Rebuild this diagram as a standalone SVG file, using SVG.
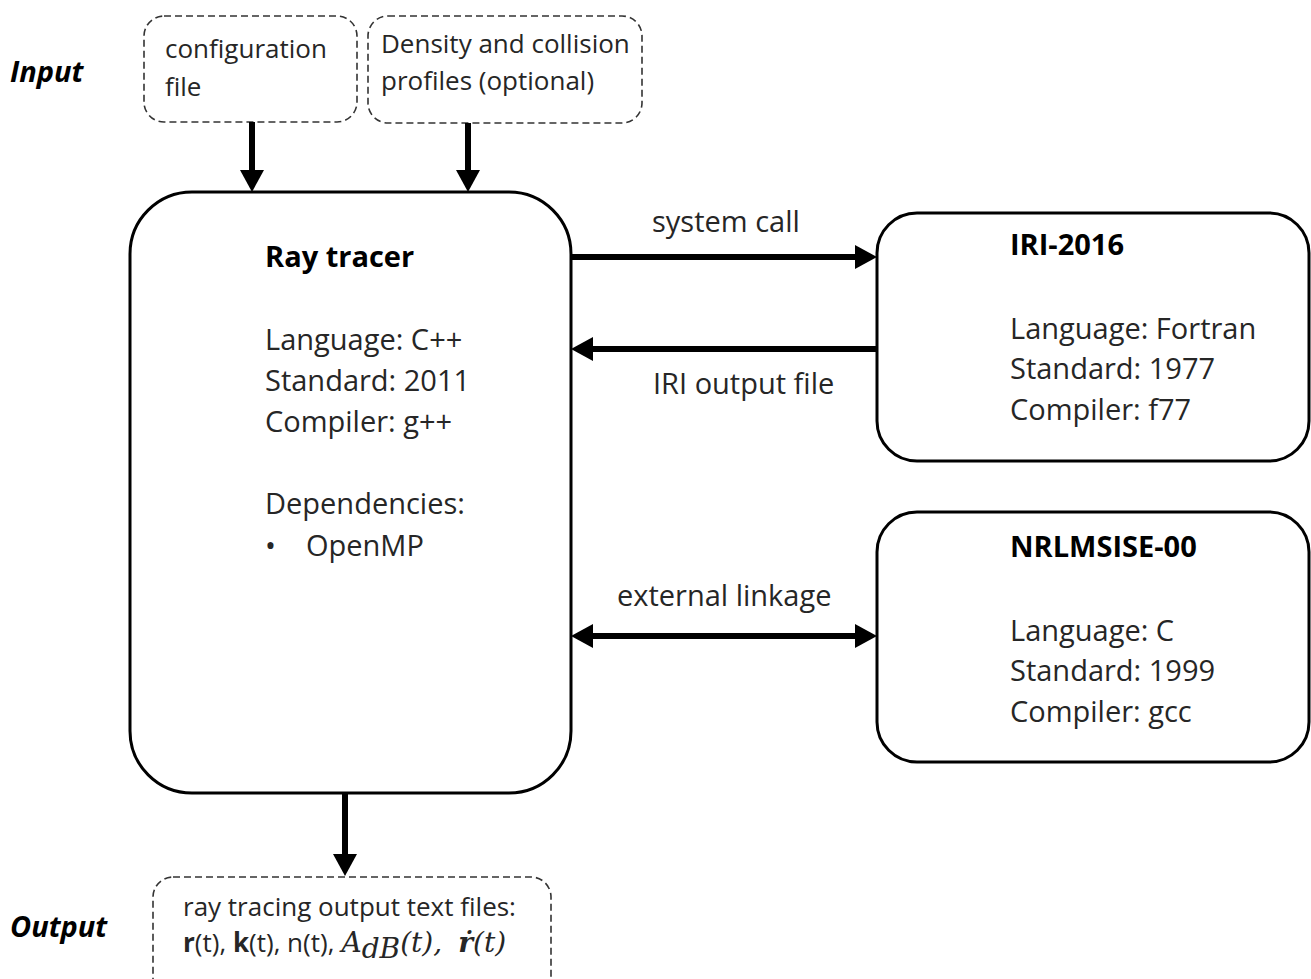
<svg xmlns="http://www.w3.org/2000/svg" width="1311" height="979" viewBox="0 0 1311 979">
<style>
.box{fill:#fff;stroke:#000;stroke-width:3}
.dbox{fill:#fff;stroke:#333;stroke-width:1.6;stroke-dasharray:7 4}
.t{font-family:"Open Sans","Liberation Sans",sans-serif;font-size:29px;fill:#262626}
.ts{font-family:"Open Sans","Liberation Sans",sans-serif;font-size:26px;fill:#262626}
.b{font-weight:bold;fill:#000}
.lab{font-family:"Open Sans","Liberation Sans",sans-serif;font-weight:bold;font-style:italic;font-size:29px;fill:#000}
.m{font-family:"DejaVu Serif","Liberation Serif",serif;font-style:italic;font-size:28px}
.c{stroke:#000;stroke-width:6;fill:none}
</style>
<defs>
<marker id="ah" viewBox="0 0 22 24" markerWidth="22" markerHeight="24" refX="10" refY="12" orient="auto-start-reverse" markerUnits="userSpaceOnUse">
<path d="M0,0 L22,12 L0,24 z" fill="#000"/>
</marker>
</defs>
<rect width="1311" height="979" fill="#fff"/>
<text class="lab" x="10" y="82">Input</text>
<text class="lab" x="10" y="937">Output</text>
<g id="config">
<rect class="dbox" x="144" y="16" width="213" height="106" rx="20"/>
<text class="ts" x="165" y="58">configuration</text>
<text class="ts" x="165" y="96">file</text>
</g>
<g id="density">
<rect class="dbox" x="368" y="16" width="274" height="107" rx="20"/>
<text class="ts" x="381" y="53">Density and collision</text>
<text class="ts" x="381" y="90">profiles (optional)</text>
</g>
<g id="raytracer">
<rect class="box" x="130" y="192" width="441" height="601" rx="62"/>
<text class="t b" x="265" y="267">Ray tracer</text>
<text class="t" x="265" y="350">Language: C++</text>
<text class="t" x="265" y="391">Standard: 2011</text>
<text class="t" x="265" y="432">Compiler: g++</text>
<text class="t" x="265" y="514">Dependencies:</text>
<text class="t" x="265" y="556">•</text>
<text class="t" x="306" y="556">OpenMP</text>
</g>
<g id="iri">
<rect class="box" x="877" y="213" width="432" height="248" rx="40"/>
<text class="t b" x="1010" y="255">IRI-2016</text>
<text class="t" x="1010" y="339">Language: Fortran</text>
<text class="t" x="1010" y="379">Standard: 1977</text>
<text class="t" x="1010" y="420">Compiler: f77</text>
</g>
<g id="nrlmsise">
<rect class="box" x="877" y="512" width="432" height="250" rx="40"/>
<text class="t b" x="1010" y="557">NRLMSISE-00</text>
<text class="t" x="1010" y="641">Language: C</text>
<text class="t" x="1010" y="681">Standard: 1999</text>
<text class="t" x="1010" y="722">Compiler: gcc</text>
</g>
<g id="output">
<rect class="dbox" x="153" y="877" width="398" height="130" rx="20"/>
<text class="ts" x="183" y="916">ray tracing output text files:</text>
<text class="ts" x="183" y="952"><tspan font-weight="bold">r</tspan>(t), <tspan font-weight="bold">k</tspan>(t), n(t),<tspan class="m" dx="7">A</tspan><tspan class="m" font-size="20" dy="6">dB</tspan><tspan class="m" dy="-6" font-style="normal">(</tspan><tspan class="m">t</tspan><tspan class="m" font-style="normal">),</tspan><tspan class="m" font-weight="bold" dx="16">ṙ</tspan><tspan class="m" font-style="normal">(</tspan><tspan class="m">t</tspan><tspan class="m" font-style="normal">)</tspan></text>
</g>
<g id="connectors">
<path class="c" d="M252,122 V180" marker-end="url(#ah)"/>
<path class="c" d="M468,123 V180" marker-end="url(#ah)"/>
<path class="c" d="M571,257 H865" marker-end="url(#ah)"/>
<path class="c" d="M877,349 H583" marker-end="url(#ah)"/>
<path class="c" d="M583,636 H865" marker-start="url(#ah)" marker-end="url(#ah)"/>
<path class="c" d="M345,793 V864" marker-end="url(#ah)"/>
<text class="t" x="652" y="232">system call</text>
<text class="t" x="653" y="394">IRI output file</text>
<text class="t" x="617" y="606">external linkage</text>
</g>
</svg>
